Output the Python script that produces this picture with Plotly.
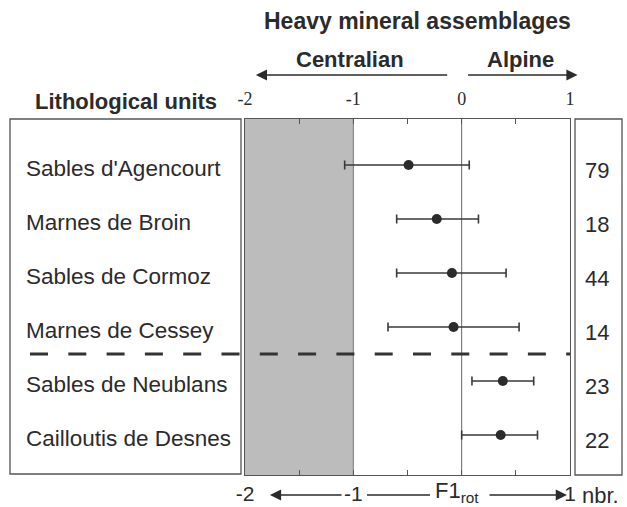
import plotly.graph_objects as go

units = ["Sables d'Agencourt", "Marnes de Broin", "Sables de Cormoz",
         "Marnes de Cessey", "Sables de Neublans", "Cailloutis de Desnes"]
means = [-0.49, -0.23, -0.09, -0.075, 0.38, 0.36]
lows = [-1.08, -0.60, -0.60, -0.68, 0.095, 0.0]
highs = [0.07, 0.155, 0.41, 0.53, 0.665, 0.70]
counts = [79, 18, 44, 14, 23, 22]
top_ticks = [-2, -1.5, -1, -0.5, 0, 0.5, 1]
top_ticktext = ["-2", "", "-1", "", "0", "", "1"]
bottom_ticktext = ["-2", "", "-1", "", "", "", "1"]

W, H = 627, 507
def px(x):
    return x / W
def py(y):
    return 1 - y / H

rows = list(range(len(units)))
plus = [h - m for h, m in zip(highs, means)]
minus = [m - l for m, l in zip(means, lows)]

INK = "#2b2b2b"
LINE = "#555555"
SANS = "Liberation Sans, Arial, sans-serif"
SERIF = "Liberation Serif, Times New Roman, serif"

fig = go.Figure()
fig.add_trace(go.Scatter(
    x=means, y=rows, mode="markers",
    marker=dict(size=10, color=INK),
    error_x=dict(type="data", symmetric=False, array=plus, arrayminus=minus,
                 color="#3a3a3a", thickness=1.6, width=4.5),
    showlegend=False, hoverinfo="skip"))
# dummy trace for top axis
fig.add_trace(go.Scatter(x=[-2, 1], y=[0, 0], xaxis="x2", mode="markers",
                         marker=dict(opacity=0), showlegend=False, hoverinfo="skip"))

dom_x = [px(245), px(570)]
dom_y = [py(475), py(119)]

fig.update_layout(
    template="none",
    width=W, height=H, margin=dict(l=0, r=0, t=0, b=0, pad=0),
    paper_bgcolor="white", plot_bgcolor="white",
    xaxis=dict(domain=dom_x, range=[-2, 1], tickvals=top_ticks, ticktext=bottom_ticktext,
               ticks="inside", ticklen=5, tickcolor=LINE, showline=True, linecolor=LINE,
               linewidth=1.3, showgrid=False, zeroline=False, automargin=False,
               tickfont=dict(family=SANS, size=21, color=INK), ticklabelstandoff=0),
    xaxis2=dict(domain=dom_x, range=[-2, 1], overlaying="x", side="top", anchor="y",
                tickvals=top_ticks, ticktext=top_ticktext, ticks="inside", ticklen=5,
                tickcolor=LINE, showline=True, linecolor=LINE, linewidth=1.3,
                showgrid=False, zeroline=False, automargin=False,
                tickfont=dict(family=SERIF, size=18, color=INK), ticklabelstandoff=6),
    yaxis=dict(domain=dom_y, range=[5.74, -0.852], showticklabels=False, ticks="",
               showgrid=False, zeroline=False, showline=True, mirror=True,
               linecolor=LINE, linewidth=1.3, automargin=False),
)

shapes = []
# gray Centralian band
shapes.append(dict(type="rect", xref="x", yref="paper", x0=-2, x1=-1, y0=dom_y[0], y1=dom_y[1],
                   fillcolor="#bcbcbc", line=dict(width=0), layer="below"))
shapes.append(dict(type="line", xref="x", yref="paper", x0=-1, x1=-1, y0=dom_y[0], y1=dom_y[1],
                   line=dict(color="#777777", width=1), layer="below"))
# zero line
shapes.append(dict(type="line", xref="x", yref="paper", x0=0, x1=0, y0=dom_y[0], y1=dom_y[1],
                   line=dict(color="#666666", width=1), layer="below"))
# left box
shapes.append(dict(type="rect", xref="paper", yref="paper", x0=px(10), x1=px(241),
                   y0=py(474), y1=py(119), line=dict(color=LINE, width=1.3)))
# right box
shapes.append(dict(type="rect", xref="paper", yref="paper", x0=px(575), x1=px(622),
                   y0=py(475), y1=py(119), line=dict(color=LINE, width=1.3)))
# dashed separator
shapes.append(dict(type="line", xref="paper", yref="y", x0=px(30), x1=px(570), y0=3.5, y1=3.5,
                   line=dict(color="#333333", width=3, dash="18px,20.3px")))
# bottom axis plain line segment
shapes.append(dict(type="line", xref="x", yref="paper", x0=-0.874, x1=-0.292,
                   y0=py(495), y1=py(495), line=dict(color=INK, width=1.3)))
fig.update_layout(shapes=shapes)

def label(x, y, text, size, bold=False, xanchor="center"):
    t = f"<b>{text}</b>" if bold else text
    return dict(x=px(x), y=py(y), xref="paper", yref="paper", text=t, showarrow=False,
                xanchor=xanchor, yanchor="middle", font=dict(family=SANS, size=size, color=INK))

ann = []
for r, name in zip(rows, units):
    ann.append(dict(x=px(24), y=r, xref="paper", yref="y", text=name, showarrow=False,
                    xanchor="left", yanchor="middle", yshift=-3,
                    font=dict(family=SANS, size=22.5, color=INK)))
for r, c in zip(rows, counts):
    ann.append(dict(x=px(597), y=r, xref="paper", yref="y", text=str(c), showarrow=False,
                    xanchor="center", yanchor="middle", yshift=-5,
                    font=dict(family=SANS, size=22, color=INK)))
ann.append(label(417, 21, "Heavy mineral assemblages", 23, bold=True))
ann.append(label(350, 60, "Centralian", 22, bold=True))
ann.append(label(520, 60, "Alpine", 22, bold=True))
ann.append(label(126, 101, "Lithological units", 22, bold=True))
ann.append(label(457, 492, "F1<sub>rot</sub>", 22))
ann.append(label(600, 495, "nbr.", 22))
# arrows
arrow_style = dict(showarrow=True, arrowhead=2, arrowsize=1.6, arrowwidth=1.4,
                   arrowcolor=INK, text="", ayref="pixel", ay=0)
ann.append(dict(x=-1.90, y=py(75), xref="x", yref="paper", ax=-0.12, axref="x", **arrow_style))
ann.append(dict(x=1.07, y=py(75), xref="x", yref="paper", ax=0.045, axref="x", **arrow_style))
ann.append(dict(x=-1.77, y=py(495), xref="x", yref="paper", ax=-1.095, axref="x", **arrow_style))
ann.append(dict(x=0.972, y=py(495), xref="x", yref="paper", ax=0.243, axref="x", **arrow_style))
fig.update_layout(annotations=ann)

fig.write_html("out.html", config={"displayModeBar": False},
               post_script="document.body.style.margin='0';")
